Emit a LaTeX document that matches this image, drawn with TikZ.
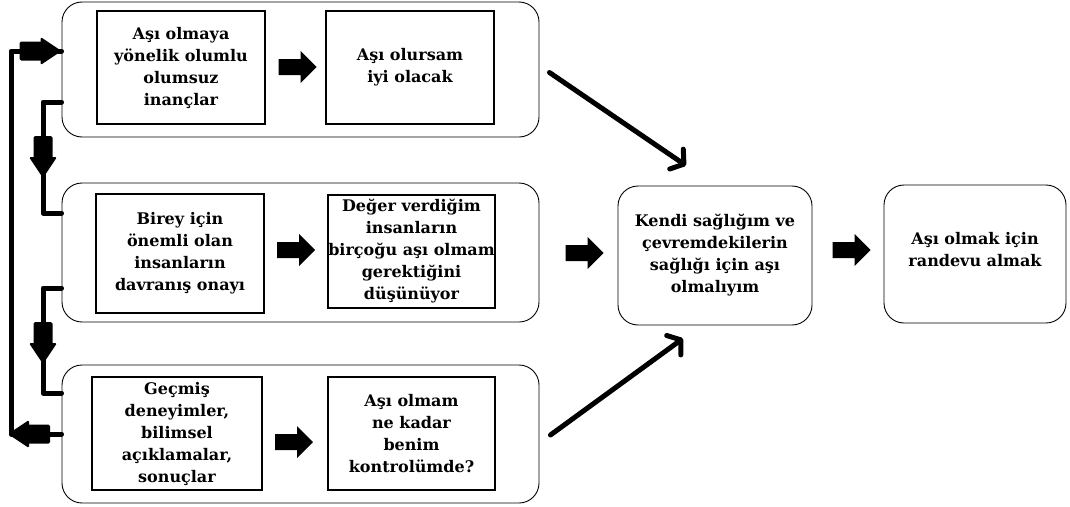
\documentclass[tikz,border=0pt]{standalone}
\usepackage{fontspec}
\setmainfont{DejaVu Serif}
\usetikzlibrary{arrows.meta,calc}
\begin{document}
\begin{tikzpicture}[x=1pt,y=-1pt,
  txt/.style={align=center, font=\bfseries\fontsize{16}{22}\selectfont, inner sep=0pt},
  group/.style={draw, rounded corners=20pt, line width=0.9pt},
  card/.style={txt, draw, line width=1.1pt},
  roundcard/.style={txt, draw, rounded corners=20pt, line width=0.9pt},
  conn/.style={line width=5pt, line cap=round, line join=round},
  diag/.style={line width=5pt, line cap=round,
    -{Straight Barb[length=9pt, width=24pt, line width=5pt, round]}},
  blockarr/.pic={\fill (-19,-8) -- (3,-8) -- (3,-16) -- (19,0) -- (3,16) -- (3,8) -- (-19,8) -- cycle;},
  thickhead/.pic={\fill[rounded corners=1.5pt] (0,0) -- (-21,14) -- (-21,-14) -- cycle;
                  \fill[rounded corners=1.5pt] (-42,-9.5) rectangle (-18,9.5);}
]
\useasboundingbox (0,0) rectangle (1070,506);

% three groups of factors
\node[group, minimum width=477pt, minimum height=135pt] (g1) at (300.5,69.5) {};
\node[group, minimum width=477pt, minimum height=139pt] (g2) at (300.5,252.5) {};
\node[group, minimum width=477pt, minimum height=138pt] (g3) at (300.5,434) {};

% boxes inside the groups
\node[card, minimum width=168pt, minimum height=113pt] (g1a) at (181,67.5) {Aşı olmaya\\yönelik olumlu\\olumsuz\\inançlar};
\node[card, minimum width=168pt, minimum height=113pt] (g1b) at (410,67.5) {Aşı olursam\\iyi olacak};
\node[card, minimum width=168pt, minimum height=119pt] (g2a) at (180,253.5) {Birey için\\önemli olan\\insanların\\davranış onayı};
\node[card, minimum width=167pt, minimum height=113pt] (g2b) at (411.5,251.5) {Değer verdiğim\\insanların\\birçoğu aşı olmam\\gerektiğini\\düşünüyor};
\node[card, minimum width=170pt, minimum height=113pt] (g3a) at (177,433.5) {Geçmiş\\deneyimler,\\bilimsel\\açıklamalar,\\sonuçlar};
\node[card, minimum width=167pt, minimum height=113pt] (g3b) at (411.5,433.5) {Aşı olmam\\ne kadar\\benim\\kontrolümde?};

% intention and behaviour
\node[roundcard, minimum width=194pt, minimum height=139pt] (kendi) at (715,255.5) {Kendi sağlığım ve\\çevremdekilerin\\sağlığı için aşı\\olmalıyım};
\node[roundcard, minimum width=182pt, minimum height=138pt] (randevu) at (975,254) {Aşı olmak için\\randevu almak\\[-12pt]};

% block arrows
\pic at (297.5,67) {blockarr};
\pic at (296,250) {blockarr};
\pic at (294,442) {blockarr};
\pic at (584.5,253) {blockarr};
\pic at (851.5,250) {blockarr};

% diagonal arrows into the intention box
\draw[diag] ($(g1.east)+(10,3)$) -- ($(kendi.north)+(-29,-20)$);
\draw[diag] ($(g3.east)+(11,1)$) -- ($(kendi.south)+(-32,13)$);

% feedback loop on the left
\coordinate (loopT) at (11,51);
\coordinate (loopB) at (11,434);
\draw[conn] (g3.west) -- (loopB) -- (loopT) -- (g1.west |- loopT);
\pic at (g1.west |- loopT) {thickhead};
\pic[rotate=180] at (8,434) {thickhead};

% brackets between neighbouring groups
\coordinate (b1t) at (43,102);
\coordinate (b1b) at (43,213);
\draw[conn] (g1.west |- b1t) -- (b1t) -- (b1b) -- (g2.west |- b1b);
\pic[rotate=-90] at (43,178) {thickhead};
\coordinate (b2t) at (43,288);
\coordinate (b2b) at (43,393);
\draw[conn] (g2.west |- b2t) -- (b2t) -- (b2b) -- (g3.west |- b2b);
\pic[rotate=-90] at (43,364) {thickhead};
\end{tikzpicture}
\end{document}
